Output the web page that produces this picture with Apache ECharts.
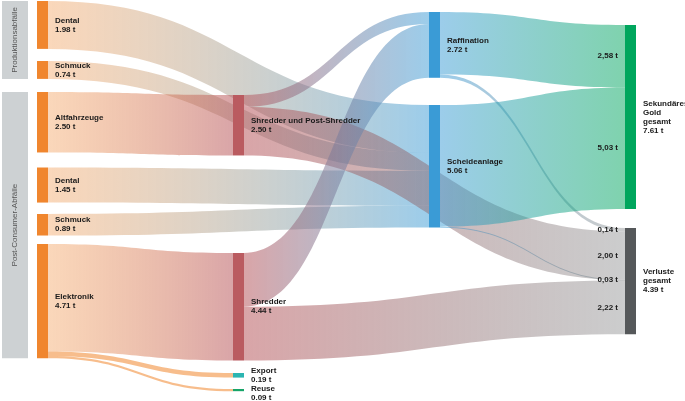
<!DOCTYPE html>
<html>
<head>
<meta charset="utf-8">
<script src="https://cdn.jsdelivr.net/npm/echarts@6/dist/echarts.min.js"></script>
<style>
html, body { margin: 0; padding: 0; background: #fff; }
#chart { width: 685px; height: 401px; }
</style>
</head>
<body>
<div id="chart"></div>
<script>
// nodes (ids must be unique, labels can repeat)
var nodeIds = ['dentalP', 'schmuckP', 'altfahrzeuge', 'dentalK', 'schmuckK', 'elektronik',
  'sups', 'shredder', 'export', 'reuse', 'raffination', 'scheideanlage', 'gold', 'verluste'];
var nodeLabels = ['Dental', 'Schmuck', 'Altfahrzeuge', 'Dental', 'Schmuck', 'Elektronik',
  'Shredder und Post-Shredder', 'Shredder', 'Export', 'Reuse', 'Raffination', 'Scheideanlage',
  'Sekundäres\nGold\ngesamt', 'Verluste\ngesamt'];
var nodeTotals = [1.98, 0.74, 2.50, 1.45, 0.89, 4.71, 2.50, 4.44, 0.19, 0.09, 2.72, 5.06, 7.61, 4.39];
var nodeStages = [0, 0, 0, 0, 0, 0, 1, 1, 1, 1, 2, 2, 3, 3];

// links (tonnes of gold)
var linkSources = ['dentalP', 'schmuckP', 'altfahrzeuge', 'dentalK', 'schmuckK', 'elektronik', 'elektronik', 'elektronik',
  'raffination', 'sups', 'sups', 'shredder', 'shredder', 'raffination', 'scheideanlage', 'scheideanlage'];
var linkTargets = ['scheideanlage', 'scheideanlage', 'sups', 'scheideanlage', 'scheideanlage', 'shredder', 'export', 'reuse',
  'verluste', 'raffination', 'verluste', 'raffination', 'verluste', 'gold', 'gold', 'verluste'];
var linkValues = [1.98, 0.74, 2.50, 1.45, 0.89, 4.44, 0.19, 0.09, 0.14, 0.50, 2.00, 2.22, 2.22, 2.58, 5.03, 0.03];

// source groups drawn as grey bands on the left
var groupNames = ['Produktionsabfälle', 'Post-Consumer-Abfälle'];
var groupFirst = ['dentalP', 'altfahrzeuge'];
var groupLast = ['schmuckP', 'elektronik'];

var ORANGE = '#F0862E', RED = '#BA5B60', BLUE = '#3A9BD6';
var nodeColors = {
  dentalP: ORANGE, schmuckP: ORANGE, altfahrzeuge: ORANGE, dentalK: ORANGE, schmuckK: ORANGE, elektronik: ORANGE,
  sups: RED, shredder: RED, export: '#2BB5B1', reuse: '#17A469',
  raffination: BLUE, scheideanlage: BLUE, gold: '#00A65D', verluste: '#55585A'
};
// how strongly each node's colour shows at the ends of its links
var linkAlpha = {
  dentalP: 0.33, schmuckP: 0.33, altfahrzeuge: 0.33, dentalK: 0.33, schmuckK: 0.33, elektronik: 0.33,
  sups: 0.55, shredder: 0.55, export: 0.55, reuse: 0.55,
  raffination: 0.5, scheideanlage: 0.5, gold: 0.5, verluste: 0.3
};

// layout: plot area and the top edge (px) of each node within its column
var L = 37, T = 1, R = 49, B = 43;
var H = 401 - T - B;
var nodeTops = {
  dentalP: 1, schmuckP: 61, altfahrzeuge: 92, dentalK: 167.5, schmuckK: 214, elektronik: 244,
  sups: 95, shredder: 253, export: 373, reuse: 389,
  raffination: 12, scheideanlage: 105, gold: 25, verluste: 228
};
var FONT = 'Liberation Sans, Arial, sans-serif';

function rgba(hex, a) {
  var n = parseInt(hex.slice(1), 16);
  return 'rgba(' + (n >> 16) + ',' + ((n >> 8) & 255) + ',' + (n & 255) + ',' + a + ')';
}
function fmtT(v) { return v.toFixed(2) + ' t'; }

var nodes = nodeIds.map(function (id, i) {
  var n = { name: id, depth: nodeStages[i], localY: (nodeTops[id] - T) / H, itemStyle: { color: nodeColors[id] } };
  if (id === 'reuse') n.label = { offset: [0, 3] };
  return n;
});
// empty spacer heading stage 1 so that link order at "Verluste" follows the columns top-down
nodes.splice(6, 0, { name: 'spacer', depth: 1, value: 0, localY: 0, label: { show: false }, itemStyle: { opacity: 0 } });

var links = linkValues.map(function (v, i) {
  var s = linkSources[i], t = linkTargets[i];
  var small = t === 'export' || t === 'reuse';
  return {
    source: s, target: t, value: v,
    lineStyle: {
      color: small ? rgba(nodeColors[s], 0.55) : {
        type: 'linear', x: 0, y: 0, x2: 1, y2: 0,
        colorStops: [
          { offset: 0, color: rgba(nodeColors[s], linkAlpha[s]) },
          { offset: 1, color: rgba(nodeColors[t], linkAlpha[t]) }
        ]
      }
    }
  };
});

var chart = echarts.init(document.getElementById('chart'), null, { renderer: 'canvas' });
chart.setOption({
  animation: false,
  series: [{
    type: 'sankey',
    left: L, top: T, right: R, bottom: B,
    nodeWidth: 11,
    nodeGap: 12,
    nodeAlign: 'left',
    layoutIterations: 0,
    draggable: false,
    emphasis: { disabled: true },
    data: nodes,
    links: links,
    lineStyle: { opacity: 1, curveness: 0.5 },
    itemStyle: { borderWidth: 0 },
    label: {
      position: 'right',
      distance: 7,
      fontFamily: FONT,
      fontSize: 8,
      fontWeight: 'bold',
      lineHeight: 9,
      color: '#1a1a1a',
      formatter: function (p) {
        var i = nodeIds.indexOf(p.name);
        return i < 0 ? '' : nodeLabels[i] + '\n' + fmtT(nodeTotals[i]);
      }
    }
  }]
});

// annotations placed from the library's own layout
var graph = chart.getModel().getSeriesByIndex(0).getGraph();
function nodeTop(node) {
  var ly = node.getModel().get('localY');
  return T + (ly != null ? ly * H : node.getLayout().y);
}
var graphics = [];
groupNames.forEach(function (g, k) {
  var a = graph.getNodeById(groupFirst[k]), b = graph.getNodeById(groupLast[k]);
  var y0 = nodeTop(a), y1 = nodeTop(b) + b.getLayout().dy;
  graphics.push({
    type: 'rect', shape: { x: 2, y: y0, width: 26, height: y1 - y0 },
    style: { fill: '#CDD1D3' }, silent: true
  });
  graphics.push({
    type: 'text', x: 15, y: (y0 + y1) / 2, rotation: Math.PI / 2,
    style: { text: g, fontFamily: FONT, fontSize: 8, fill: '#555', align: 'center', verticalAlign: 'middle' },
    silent: true
  });
});
graph.edges.forEach(function (e) {
  var tid = e.node2.id;
  if (tid !== 'gold' && tid !== 'verluste') return;
  var tl = e.node2.getLayout(), el = e.getLayout();
  graphics.push({
    type: 'text', x: L + tl.x - 7, y: nodeTop(e.node2) + el.ty + el.dy / 2, silent: true, z: 10,
    style: {
      text: linkValues[e.dataIndex].toFixed(2).replace('.', ',') + ' t',
      fontFamily: FONT, fontSize: 8, fontWeight: 'bold', fill: '#1a1a1a',
      align: 'right', verticalAlign: 'middle'
    }
  });
});
chart.setOption({ graphic: graphics });
</script>
</body>
</html>
